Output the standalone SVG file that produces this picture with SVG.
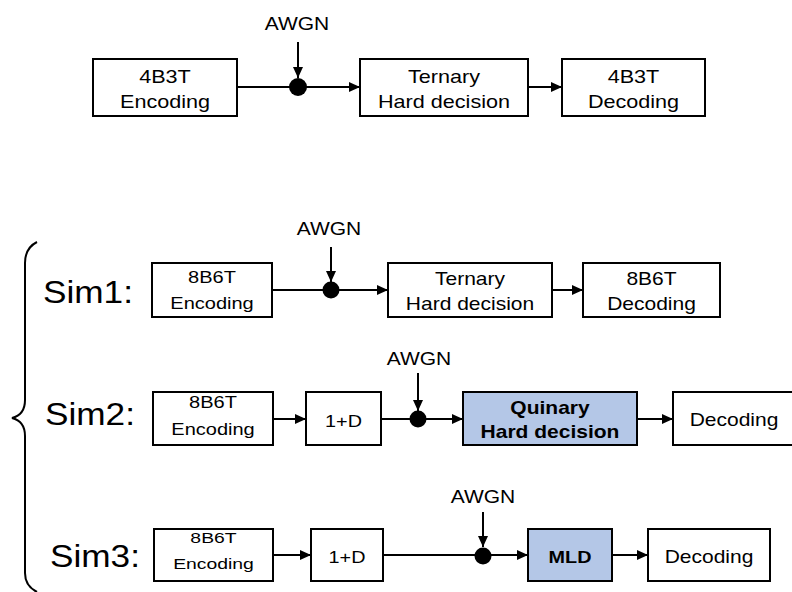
<svg xmlns="http://www.w3.org/2000/svg" width="792" height="592" viewBox="0 0 792 592">
<style>
.box{fill:#ffffff;stroke:#000000;stroke-width:2}
.hl{fill:#b4c7e7;stroke:#000000;stroke-width:2}
.t{font-family:"Liberation Sans",Arial,sans-serif;text-anchor:middle;fill:#000000}
.b{font-weight:bold}
.lbl{font-family:"Liberation Sans",Arial,sans-serif;font-size:32px;fill:#000000}
.ln{stroke:#000000;stroke-width:2;fill:none}
.dot{fill:#000000}
</style>
<defs>
<marker id="ah" markerUnits="userSpaceOnUse" markerWidth="12" markerHeight="10" refX="11" refY="5" orient="auto">
<path d="M0,0 L11,5 L0,10 z" fill="#000000"/>
</marker>
</defs>
<rect width="792" height="592" fill="#ffffff"/>

<g id="connectors">
<!-- top row -->
<line class="ln" x1="237" y1="87" x2="360" y2="87" marker-end="url(#ah)"/>
<line class="ln" x1="528" y1="87" x2="562" y2="87" marker-end="url(#ah)"/>
<line class="ln" x1="298" y1="42" x2="298" y2="78" marker-end="url(#ah)"/>
<circle class="dot" cx="298" cy="87" r="9"/>
<!-- sim1 -->
<line class="ln" x1="272" y1="290" x2="388" y2="290" marker-end="url(#ah)"/>
<line class="ln" x1="552" y1="290" x2="583" y2="290" marker-end="url(#ah)"/>
<line class="ln" x1="331" y1="247" x2="331" y2="282" marker-end="url(#ah)"/>
<circle class="dot" cx="331" cy="290" r="8.5"/>
<!-- sim2 -->
<line class="ln" x1="273" y1="419" x2="306" y2="419" marker-end="url(#ah)"/>
<line class="ln" x1="381" y1="419" x2="463" y2="419" marker-end="url(#ah)"/>
<line class="ln" x1="637" y1="419" x2="673" y2="419" marker-end="url(#ah)"/>
<line class="ln" x1="418" y1="373" x2="418" y2="411" marker-end="url(#ah)"/>
<circle class="dot" cx="418" cy="419" r="8.5"/>
<!-- sim3 -->
<line class="ln" x1="273" y1="555" x2="311" y2="555" marker-end="url(#ah)"/>
<line class="ln" x1="383" y1="555" x2="528" y2="555" marker-end="url(#ah)"/>
<line class="ln" x1="612" y1="555" x2="648" y2="555" marker-end="url(#ah)"/>
<line class="ln" x1="483" y1="512" x2="483" y2="547" marker-end="url(#ah)"/>
<circle class="dot" cx="483" cy="556" r="8.5"/>
</g>

<!-- AWGN labels -->
<g id="awgn-top"><text class="t" font-size="17.5" transform="translate(297,30) scale(1.2,1)">AWGN</text></g>
<g id="awgn-sim1"><text class="t" font-size="17.5" transform="translate(329,235) scale(1.2,1)">AWGN</text></g>
<g id="awgn-sim2"><text class="t" font-size="17.5" transform="translate(419,365) scale(1.2,1)">AWGN</text></g>
<g id="awgn-sim3"><text class="t" font-size="17.5" transform="translate(483,503) scale(1.2,1)">AWGN</text></g>

<!-- top row nodes -->
<g id="top-enc">
<rect class="box" x="93" y="59" width="144" height="57"/>
<text class="t" font-size="18" transform="translate(165,83) scale(1.2,1)">4B3T</text>
<text class="t" font-size="18" transform="translate(165,108) scale(1.2,1)">Encoding</text>
</g>
<g id="top-ternary">
<rect class="box" x="360" y="59" width="168" height="57"/>
<text class="t" font-size="18" transform="translate(444,83) scale(1.2,1)">Ternary</text>
<text class="t" font-size="18" transform="translate(444,108) scale(1.2,1)">Hard decision</text>
</g>
<g id="top-dec">
<rect class="box" x="562" y="59" width="143" height="57"/>
<text class="t" font-size="18" transform="translate(633.5,83) scale(1.2,1)">4B3T</text>
<text class="t" font-size="18" transform="translate(633.5,108) scale(1.2,1)">Decoding</text>
</g>

<!-- brace -->
<g id="brace">
<path class="ln" stroke-width="1.8" d="M37,242 C29,246 25,253 25,263 L25,400 C25,410 20,416 12,418 C20,420 25,426 25,436 L25,573 C25,582 29,588 37,592"/>
</g>

<!-- Sim labels -->
<g id="sim1-label"><text class="lbl" transform="translate(43,303) scale(1.1,1)">Sim1:</text></g>
<g id="sim2-label"><text class="lbl" transform="translate(45,425) scale(1.1,1)">Sim2:</text></g>
<g id="sim3-label"><text class="lbl" transform="translate(50,567) scale(1.1,1)">Sim3:</text></g>

<!-- Sim1 nodes -->
<g id="sim1-enc">
<rect class="box" x="152" y="263" width="120" height="54"/>
<text class="t" font-size="16" transform="translate(212,283) scale(1.25,1)">8B6T</text>
<text class="t" font-size="16" transform="translate(212,309) scale(1.25,1)">Encoding</text>
</g>
<g id="sim1-ternary">
<rect class="box" x="388" y="263" width="164" height="54"/>
<text class="t" font-size="17.5" transform="translate(470,285) scale(1.2,1)">Ternary</text>
<text class="t" font-size="17.5" transform="translate(470,310) scale(1.2,1)">Hard decision</text>
</g>
<g id="sim1-dec">
<rect class="box" x="583" y="263" width="137" height="54"/>
<text class="t" font-size="17.5" transform="translate(651.5,285) scale(1.2,1)">8B6T</text>
<text class="t" font-size="17.5" transform="translate(651.5,310) scale(1.2,1)">Decoding</text>
</g>

<!-- Sim2 nodes -->
<g id="sim2-enc">
<rect class="box" x="153" y="392" width="120" height="53"/>
<text class="t" font-size="16" transform="translate(213,408) scale(1.25,1)">8B6T</text>
<text class="t" font-size="16" transform="translate(213,435) scale(1.25,1)">Encoding</text>
</g>
<g id="sim2-1d">
<rect class="box" x="306" y="392" width="75" height="53"/>
<text class="t" font-size="16.5" transform="translate(343.5,427) scale(1.2,1)">1+D</text>
</g>
<g id="sim2-quinary">
<rect class="hl" x="463" y="392" width="174" height="53"/>
<text class="t b" font-size="17.5" transform="translate(550,414) scale(1.2,1)">Quinary</text>
<text class="t b" font-size="17.5" transform="translate(550,438) scale(1.2,1)">Hard decision</text>
</g>
<g id="sim2-dec">
<rect class="box" x="673" y="392" width="124" height="53"/>
<text class="t" font-size="17.5" transform="translate(734,426) scale(1.2,1)">Decoding</text>
</g>

<!-- Sim3 nodes -->
<g id="sim3-enc">
<rect class="box" x="154" y="529" width="119" height="52"/>
<text class="t" font-size="15.5" transform="translate(213.5,543) scale(1.25,1)">8B6T</text>
<text class="t" font-size="15.5" transform="translate(213.5,569) scale(1.25,1)">Encoding</text>
</g>
<g id="sim3-1d">
<rect class="box" x="311" y="529" width="72" height="52"/>
<text class="t" font-size="16.5" transform="translate(347,563) scale(1.2,1)">1+D</text>
</g>
<g id="sim3-mld">
<rect class="hl" x="528" y="529" width="84" height="52"/>
<text class="t b" font-size="16.5" transform="translate(570,563) scale(1.2,1)">MLD</text>
</g>
<g id="sim3-dec">
<rect class="box" x="648" y="529" width="122" height="52"/>
<text class="t" font-size="17.5" transform="translate(709,563) scale(1.2,1)">Decoding</text>
</g>
</svg>
